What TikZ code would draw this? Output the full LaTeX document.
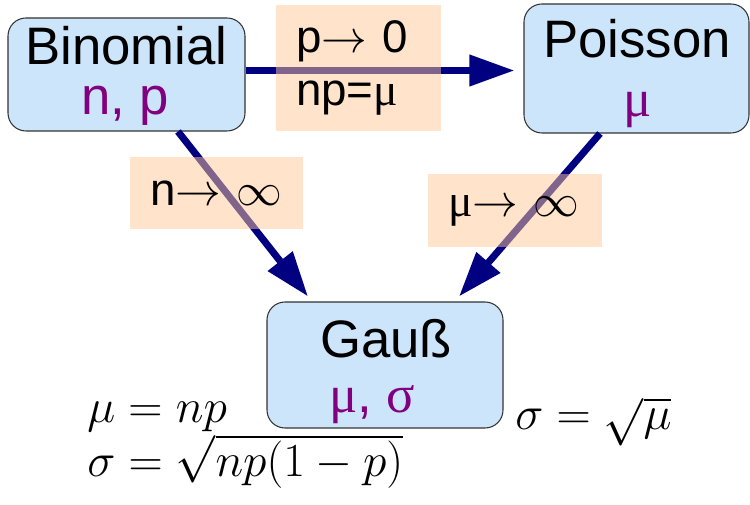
\RequirePackage{fix-cm}
\documentclass[tikz,border=0pt]{standalone}
\usepackage{amsmath}
\usepackage[no-math]{fontspec}
\setmainfont{Liberation Sans}
\newfontfamily\symfont{Liberation Serif}
\usetikzlibrary{arrows.meta,positioning,calc}
\definecolor{BoxBlue}{HTML}{CCE5FA}
\definecolor{BoxEdge}{HTML}{333333}
\definecolor{LimitPeach}{HTML}{FFC999}
\definecolor{FlowNavy}{HTML}{000080}
\definecolor{ParamPurple}{HTML}{800080}
\newcommand{\mus}{{\symfont μ}}
\newcommand{\sigs}{{\symfont σ}}

\begin{document}
\begin{tikzpicture}[x=0.2mm,y=-0.2mm,
		distbox/.style={draw=BoxEdge,line width=0.6pt,fill=BoxBlue,rounded corners=0.36cm,inner sep=0pt},
		distname/.style={anchor=base,inner sep=0pt,font=\fontsize{30}{33}\selectfont},
		distpar/.style={distname,text=ParamPurple},
		limitbox/.style={fill=LimitPeach,fill opacity=0.5,text opacity=1,inner xsep=0.4cm,inner ysep=0pt,align=left,font=\fontsize{26}{30}\selectfont},
		flow/.style={draw=FlowNavy,line width=4pt,-{Triangle[length=0.9cm,width=0.6cm]}},
		formula/.style={anchor=base west,inner sep=0pt,font=\fontsize{27}{32}\selectfont}]
		\useasboundingbox[fill=white] (0,0) rectangle (750,505);
		% distributions
		\node[distbox,minimum width=4.74cm,minimum height=2.26cm] (bin) at (126.5,74.5) {};
		\node[distbox,minimum width=4.5cm,minimum height=2.58cm] (poi) at (636.5,68.5) {};
		\node[distbox,minimum width=4.72cm,minimum height=2.52cm] (gau) at (385,365) {};
		\node[distname] (binname) at (126.5,65) {Binomial};
		\node[distpar] (binpar) at (125,115) {n, p};
		\node[distname] (poiname) at (637,58) {Poisson};
		\node[distpar] (poipar) at (638,117) {\mus};
		\node[distname] (gauname) at (386,358) {Gauß};
		\node[distpar] (gaupar) at (372,413) {\mus, \sigs};
		% limits
		\draw[flow] ([yshift=0.08cm]bin.east) -- ([yshift=0.08cm,xshift=-0.18cm]bin.east -| poi.west);
		\draw[flow] ([xshift=1.03cm]bin.south) -- ([xshift=-1.54cm,yshift=0.1cm]gau.north);
		\draw[flow] ([xshift=-0.73cm]poi.south) -- ([xshift=1.48cm,yshift=0.1cm]gau.north);
		\node[limitbox,text width=2.5cm,minimum height=2.52cm] (pzero) at (358.5,68) {p$\rightarrow$ 0\\np=\mus};
		\node[limitbox,text width=2.66cm,minimum height=1.44cm] (nlim) at (216.5,193) {n$\rightarrow$ $\infty$};
		\node[limitbox,text width=2.68cm,minimum height=1.46cm] (mulim) at (515,210.5) {\mus$\rightarrow$ $\infty$};
		% moments
		\node[formula] (munp) at (87,423) {$\mu = np$};
		\node[formula] (sigbin) at (87,477) {$\sigma = \sqrt{\smash{np(1-p)}\vrule height 0.75em depth 0.1em width 0pt}$};
		\node[formula] (sigpoi) at (515,430) {$\sigma = \sqrt{\mu}$};
	\end{tikzpicture}
\end{document}
